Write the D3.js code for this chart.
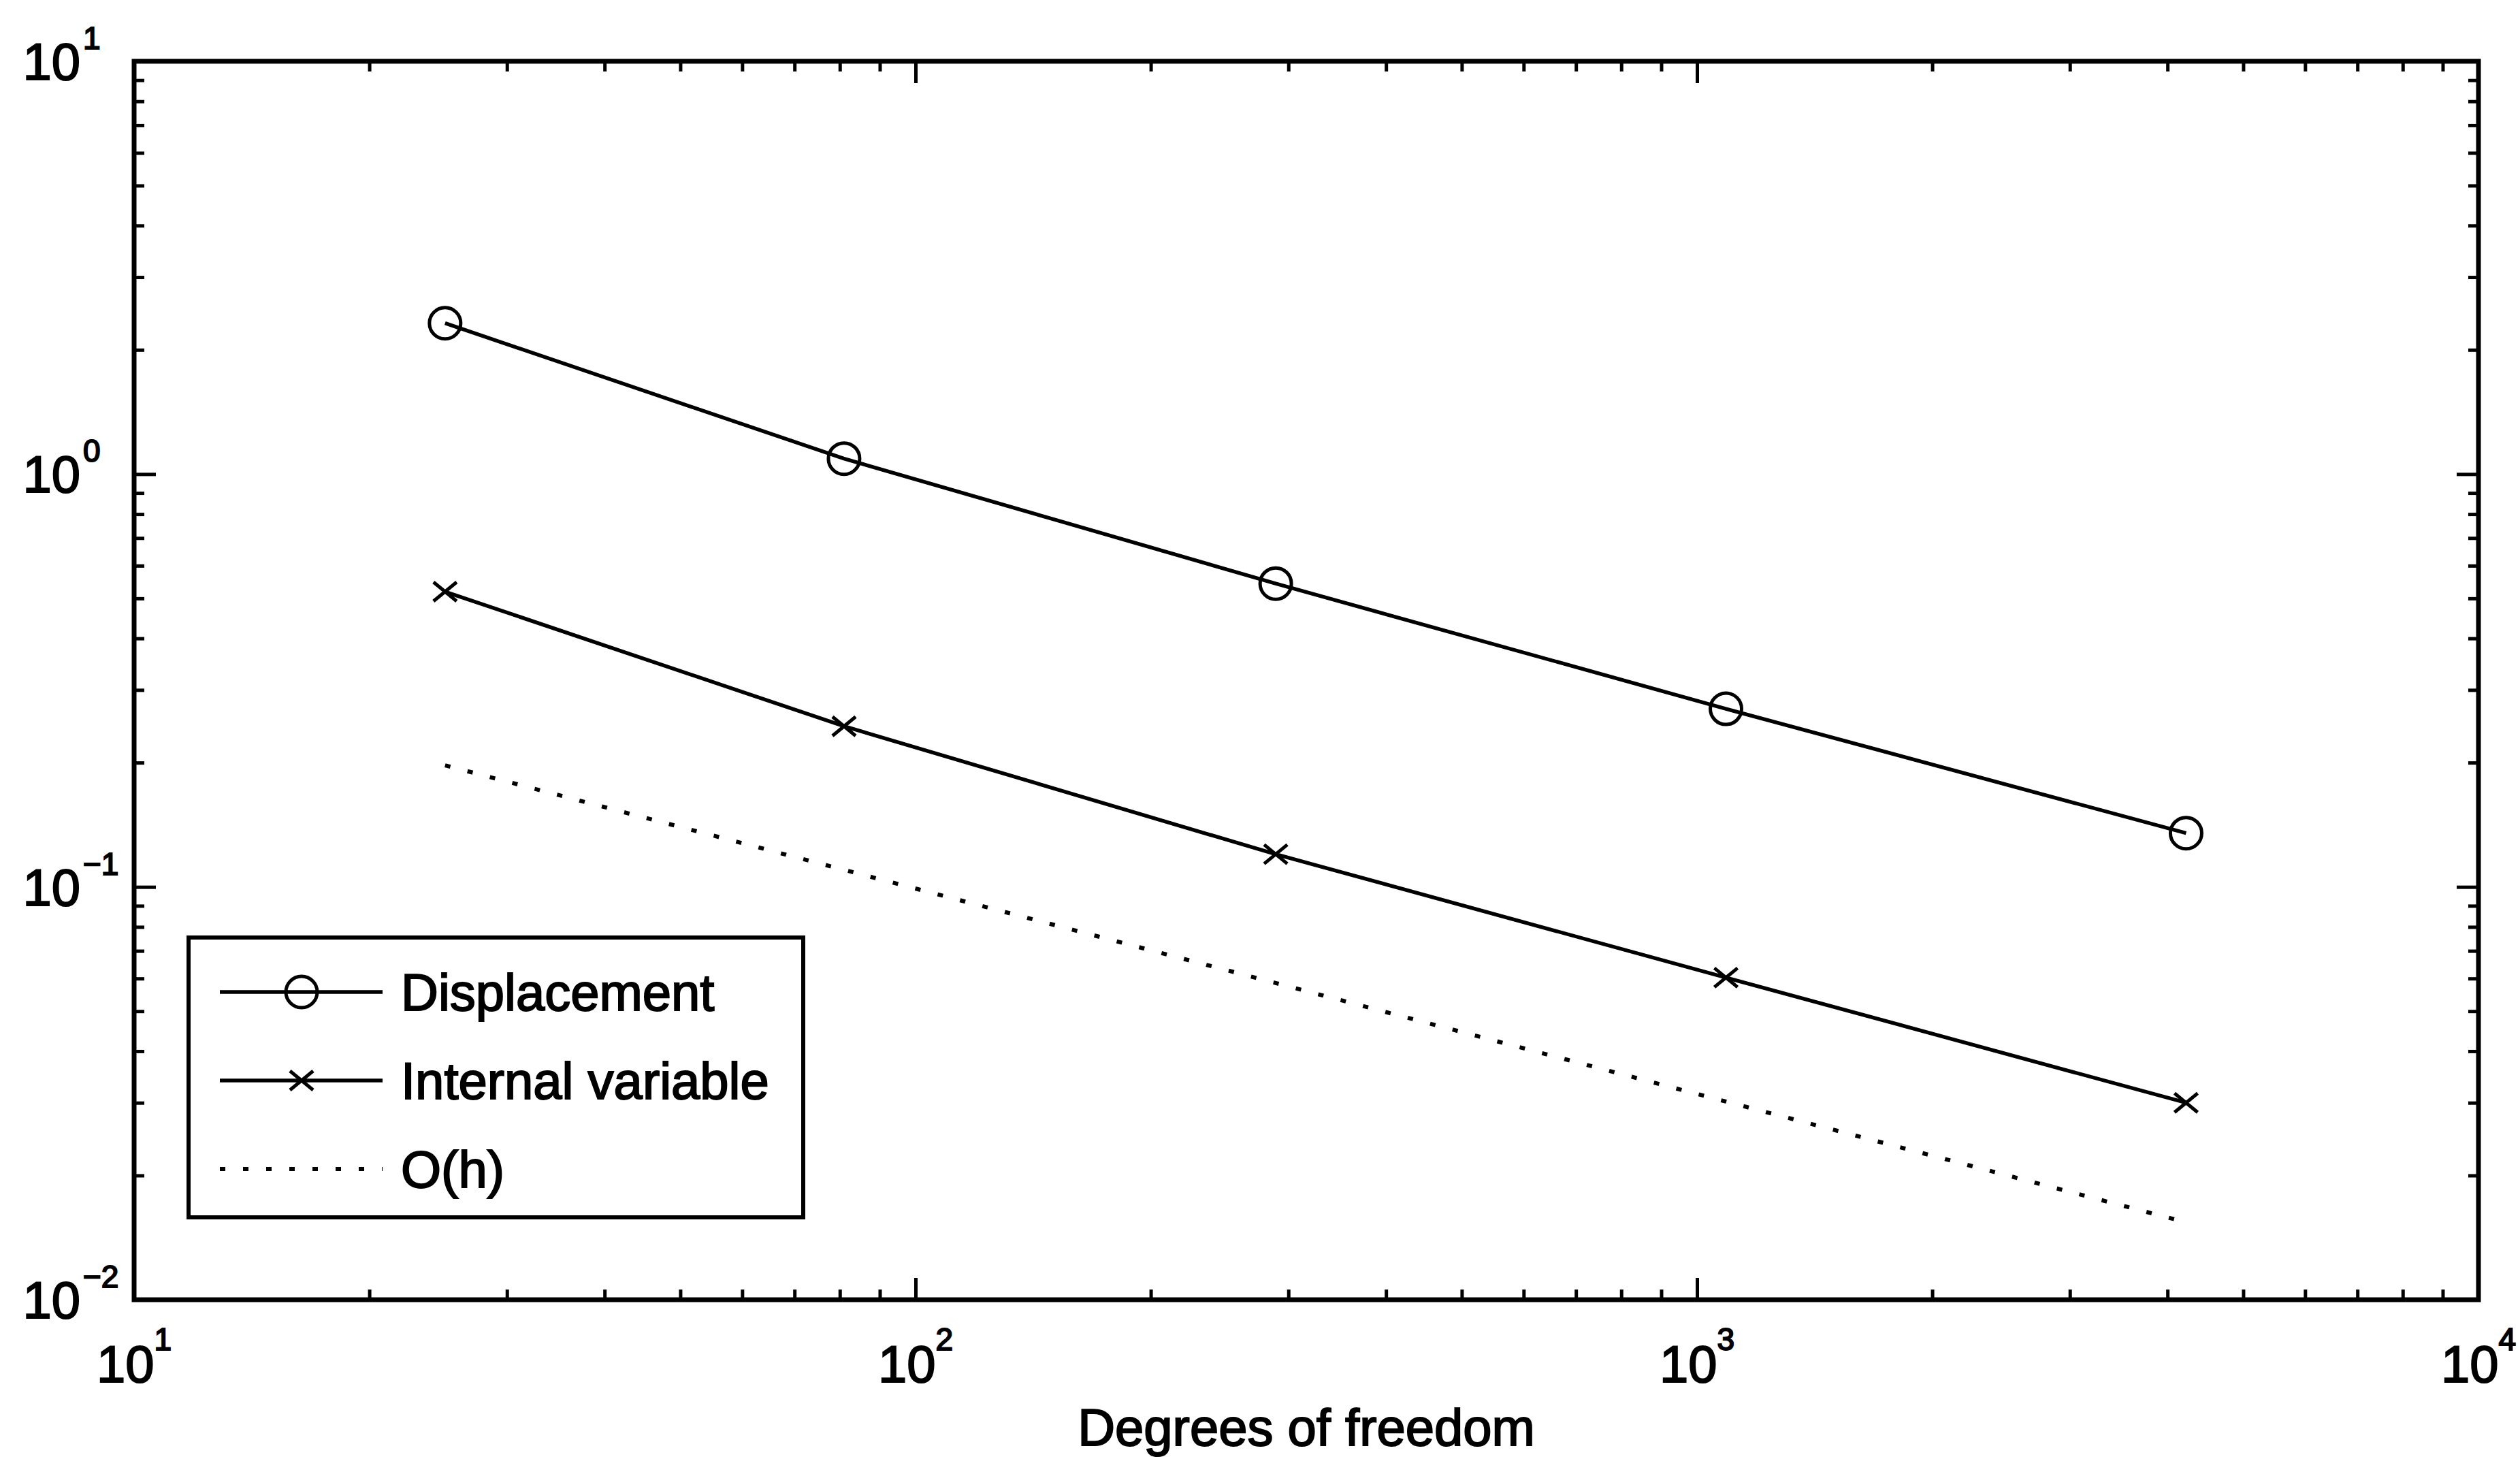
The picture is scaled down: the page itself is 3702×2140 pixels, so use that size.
<!DOCTYPE html>
<html>
<head>
<meta charset="utf-8">
<script src="https://cdn.jsdelivr.net/npm/d3@7"></script>
<style>
  body { margin: 0; background: #fff; }
  text { font-family: "Liberation Sans", Arial, Helvetica, sans-serif; fill: #000; stroke: #000; stroke-width: 2px; }
</style>
</head>
<body>
<div id="chart"></div>
<script>
// Data
const dof = [25, 81, 289, 1089, 4225];
const displacement = [2.32, 1.09, 0.543, 0.270, 0.135];
const internalVar = [0.519, 0.245, 0.120, 0.0603, 0.0300];
const orderH = [0.197, 0.110, 0.0585, 0.0302, 0.0154];

const xMajor = [10, 100, 1000, 10000];
const xExp = ["1", "2", "3", "4"];
const yMajor = [0.01, 0.1, 1, 10];
const yExp = ["\u22122", "\u22121", "0", "1"];

const legendNames = ["Displacement", "Internal variable", "O(h)"];

// Dimensions
const W = 3702, H = 2140;
const margin = { top: 90, right: 61, bottom: 231, left: 197 };
const width = W - margin.left - margin.right;
const height = H - margin.top - margin.bottom;

const svg = d3.select("#chart").append("svg")
    .attr("width", W)
    .attr("height", H)
    .append("g")
    .attr("transform", `translate(${margin.left},${margin.top})`);

// Scales
const x = d3.scaleLog().domain([10, 10000]).range([0, width]);
const y = d3.scaleLog().domain([0.01, 10]).range([height, 0]);

const xMinor = x.ticks().filter(v => !xMajor.includes(v));
const yMinor = y.ticks().filter(v => !yMajor.includes(+v.toPrecision(6)));

// Axes with inward ticks on all four sides
function styleAxis(g) {
    g.select(".domain").remove();
    g.selectAll(".tick line").attr("stroke", "#000").attr("stroke-width", 5);
}
const majorLen = 32, minorLen = 15;
const axes = [
    [d3.axisBottom, x, xMajor, xMinor, `translate(0,${height})`],
    [d3.axisTop, x, xMajor, xMinor, "translate(0,0)"],
    [d3.axisLeft, y, yMajor, yMinor, "translate(0,0)"],
    [d3.axisRight, y, yMajor, yMinor, `translate(${width},0)`]
];
axes.forEach(([fn, sc, maj, min, tr]) => {
    svg.append("g").attr("transform", tr)
        .call(fn(sc).tickValues(maj).tickSize(-majorLen).tickFormat(""))
        .call(styleAxis);
    svg.append("g").attr("transform", tr)
        .call(fn(sc).tickValues(min).tickSize(-minorLen).tickFormat(""))
        .call(styleAxis);
});

// Frame
svg.append("rect")
    .attr("x", 0).attr("y", 0)
    .attr("width", width).attr("height", height)
    .attr("fill", "none")
    .attr("stroke", "#000")
    .attr("stroke-width", 7);

// X tick labels: 10 with superscript
xMajor.forEach((v, i) => {
    const t = svg.append("text")
        .attr("x", x(v))
        .attr("y", height + 121)
        .attr("text-anchor", "middle")
        .style("font-size", "76px");
    t.append("tspan").text("10");
    t.append("tspan").text(xExp[i])
        .attr("dy", -47)
        .style("font-size", "46px");
});

// Y tick labels
yMajor.forEach((v, i) => {
    svg.append("text")
        .attr("x", -79)
        .attr("y", y(v) + 27)
        .attr("text-anchor", "end")
        .style("font-size", "76px")
        .text("10");
    svg.append("text")
        .attr("x", -75)
        .attr("y", y(v) - 18)
        .attr("text-anchor", "start")
        .style("font-size", "46px")
        .text(yExp[i]);
});

// X axis title
svg.append("text")
    .attr("x", width / 2)
    .attr("y", height + 214)
    .attr("text-anchor", "middle")
    .style("font-size", "76px")
    .text("Degrees of freedom");

// Lines
const line = vals => d3.line()
    .x((d, i) => x(dof[i]))
    .y(d => y(d))(vals);

svg.append("path")
    .attr("d", line(displacement))
    .attr("fill", "none").attr("stroke", "#000").attr("stroke-width", 5.5);

svg.append("path")
    .attr("d", line(internalVar))
    .attr("fill", "none").attr("stroke", "#000").attr("stroke-width", 5.5);

svg.append("path")
    .attr("d", line(orderH))
    .attr("fill", "none").attr("stroke", "#000").attr("stroke-width", 6)
    .attr("stroke-dasharray", "8,26");

// Markers
const crossPath = "M-17,-14L17,14M-17,14L17,-14";

svg.selectAll(".circ")
    .data(displacement)
    .enter().append("circle")
    .attr("cx", (d, i) => x(dof[i]))
    .attr("cy", d => y(d))
    .attr("r", 23)
    .attr("fill", "none")
    .attr("stroke", "#000")
    .attr("stroke-width", 5);

svg.selectAll(".cross")
    .data(internalVar)
    .enter().append("path")
    .attr("transform", (d, i) => `translate(${x(dof[i])},${y(d)})`)
    .attr("d", crossPath)
    .attr("fill", "none")
    .attr("stroke", "#000")
    .attr("stroke-width", 5);

// Legend
const legend = svg.append("g")
    .attr("transform", `translate(${277 - margin.left},${1377 - margin.top})`);

legend.append("rect")
    .attr("x", 0).attr("y", 0)
    .attr("width", 903).attr("height", 411)
    .attr("fill", "#fff")
    .attr("stroke", "#000")
    .attr("stroke-width", 6);

legendNames.forEach((name, i) => {
    const ly = 80 + i * 130;
    const ln = legend.append("line")
        .attr("x1", 46).attr("x2", 285)
        .attr("y1", ly).attr("y2", ly)
        .attr("stroke", "#000");
    if (i < 2) {
        ln.attr("stroke-width", 5.5);
    } else {
        ln.attr("stroke-width", 6).attr("stroke-dasharray", "8,26");
    }
    if (i === 0) {
        legend.append("circle")
            .attr("cx", 166).attr("cy", ly).attr("r", 23)
            .attr("fill", "none").attr("stroke", "#000").attr("stroke-width", 5);
    } else if (i === 1) {
        legend.append("path")
            .attr("transform", `translate(166,${ly})`)
            .attr("d", crossPath)
            .attr("fill", "none").attr("stroke", "#000").attr("stroke-width", 5);
    }
    legend.append("text")
        .attr("x", 312)
        .attr("y", ly + 27)
        .style("font-size", "76px")
        .text(name);
});
</script>
</body>
</html>
